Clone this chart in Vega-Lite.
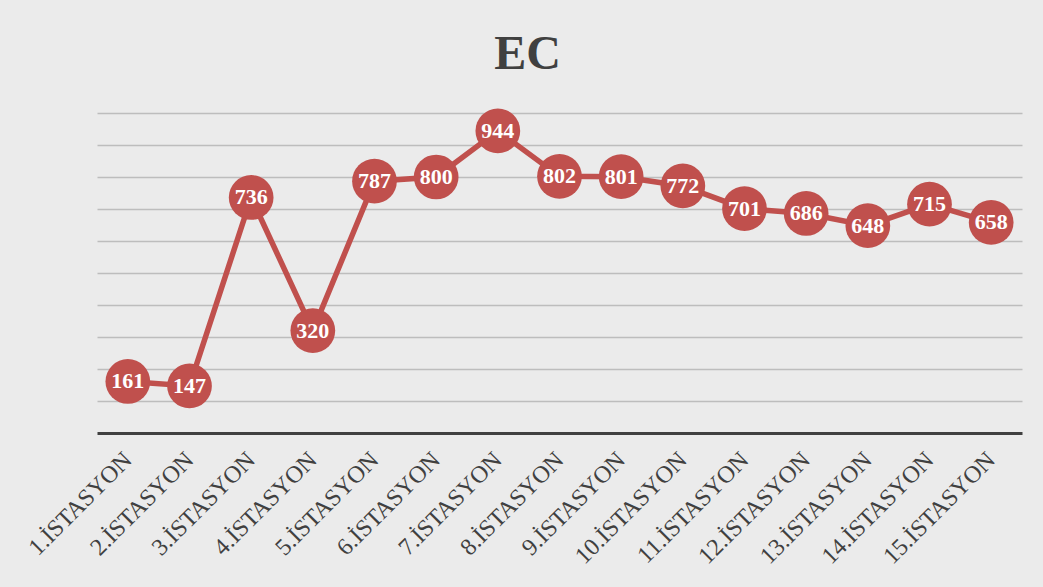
{
  "$schema": "https://vega.github.io/schema/vega-lite/v6.json",
  "width": 925,
  "height": 320,
  "autosize": "none",
  "padding": {"left": 97, "top": 113, "right": 21, "bottom": 154},
  "background": "#ebebeb",
  "title": {
    "text": "EC",
    "font": "Liberation Serif",
    "fontSize": 48,
    "fontWeight": "bold",
    "color": "#404040",
    "anchor": "middle",
    "dx": -32,
    "offset": 30
  },
  "config": {"view": {"stroke": null}},
  "data": {
    "values": [
      {"istasyon": "1.İSTASYON", "ec": 161},
      {"istasyon": "2.İSTASYON", "ec": 147},
      {"istasyon": "3.İSTASYON", "ec": 736},
      {"istasyon": "4.İSTASYON", "ec": 320},
      {"istasyon": "5.İSTASYON", "ec": 787},
      {"istasyon": "6.İSTASYON", "ec": 800},
      {"istasyon": "7.İSTASYON", "ec": 944},
      {"istasyon": "8.İSTASYON", "ec": 802},
      {"istasyon": "9.İSTASYON", "ec": 801},
      {"istasyon": "10.İSTASYON", "ec": 772},
      {"istasyon": "11.İSTASYON", "ec": 701},
      {"istasyon": "12.İSTASYON", "ec": 686},
      {"istasyon": "13.İSTASYON", "ec": 648},
      {"istasyon": "14.İSTASYON", "ec": 715},
      {"istasyon": "15.İSTASYON", "ec": 658}
    ]
  },
  "encoding": {
    "x": {
      "field": "istasyon",
      "type": "ordinal",
      "sort": null,
      "scale": {"type": "point", "padding": 0.5},
      "axis": {
        "title": null,
        "labelAngle": -45,
        "labelAlign": "right",
        "labelBaseline": "middle",
        "labelFont": "Liberation Serif",
        "labelFontSize": 24,
        "labelColor": "#404040",
        "labelPadding": 23,
        "ticks": false,
        "domainColor": "#404040",
        "domainWidth": 3,
        "grid": false
      }
    },
    "y": {
      "field": "ec",
      "type": "quantitative",
      "scale": {"domain": [0, 1000]},
      "axis": {
        "title": null,
        "labels": false,
        "ticks": false,
        "domain": false,
        "values": [100, 200, 300, 400, 500, 600, 700, 800, 900, 1000],
        "gridColor": "#bdbdbd",
        "gridWidth": 1.5
      }
    }
  },
  "layer": [
    {"mark": {"type": "line", "color": "#c0504d", "strokeWidth": 5.5}},
    {"mark": {"type": "point", "shape": "circle", "filled": true, "opacity": 1, "color": "#c0504d", "size": 2000}},
    {
      "mark": {"type": "text", "color": "#ffffff", "font": "Liberation Serif", "fontSize": 22, "fontWeight": "bold", "baseline": "middle"},
      "encoding": {"text": {"field": "ec", "type": "quantitative"}}
    }
  ]
}
